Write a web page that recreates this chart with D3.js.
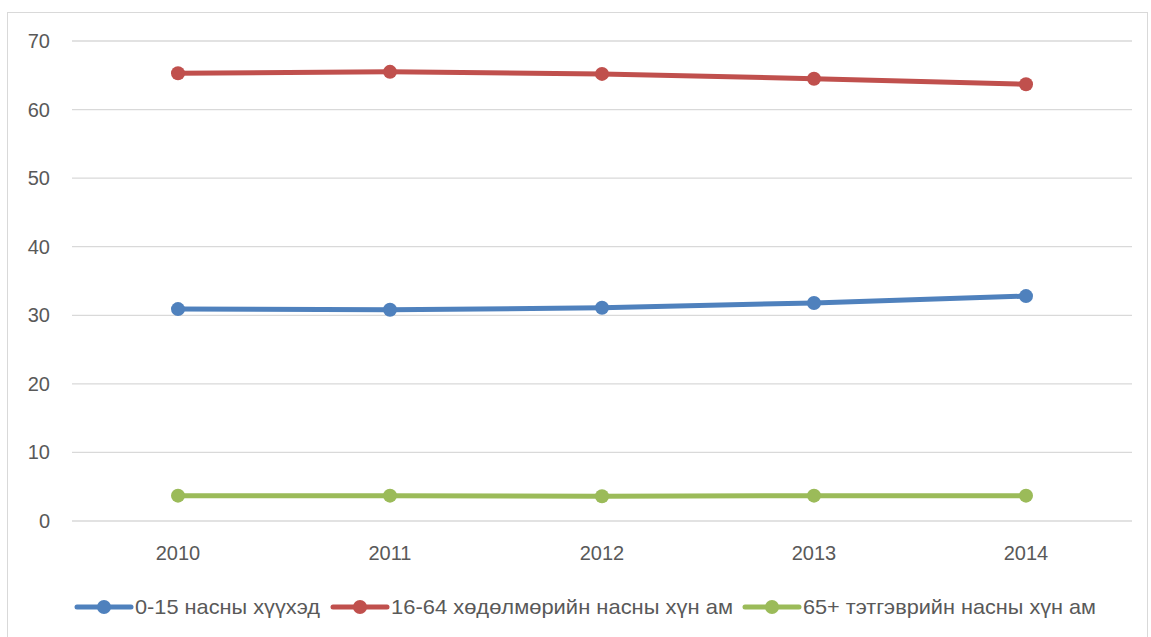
<!DOCTYPE html>
<html>
<head>
<meta charset="utf-8">
<script src="https://cdn.jsdelivr.net/npm/d3@7"></script>
<style>
  body { margin: 0; background: #fff; }
  svg text { font-family: 'Liberation Sans', 'DejaVu Sans', sans-serif; fill: #595959; }
</style>
</head>
<body>
<svg id="chart" width="1151" height="637"></svg>
<script>
const years = ['2010', '2011', '2012', '2013', '2014'];
const children = [30.9, 30.8, 31.1, 31.8, 32.8];
const working = [65.3, 65.5, 65.2, 64.5, 63.7];
const elderly = [3.7, 3.7, 3.6, 3.7, 3.7];
const yTicks = [0, 10, 20, 30, 40, 50, 60, 70];

const seriesNames = ['0-15 насны хүүхэд', '16-64 хөдөлмөрийн насны хүн ам', '65+ тэтгэврийн насны хүн ам'];
const seriesColors = ['#4f81bd', '#c0504d', '#9bbb59'];
const seriesValues = [children, working, elderly];

const svg = d3.select('#chart');

// outer chart border
svg.append('rect')
  .attr('x', 7.5).attr('y', 12.5)
  .attr('width', 1140).attr('height', 630)
  .attr('fill', 'none')
  .attr('stroke', '#d9d9d9');

const margin = {top: 41, left: 72, right: 1132, bottom: 521};

const x = d3.scaleBand()
  .domain(years)
  .range([margin.left, margin.right]);

const y = d3.scaleLinear()
  .domain([0, 70])
  .range([margin.bottom, margin.top]);

// gridlines
svg.append('g')
  .selectAll('line')
  .data(yTicks)
  .enter()
  .append('line')
    .attr('x1', margin.left).attr('x2', margin.right)
    .attr('y1', d => y(d)).attr('y2', d => y(d))
    .attr('stroke', '#d9d9d9')
    .attr('stroke-width', 1.3);

// y labels
svg.append('g')
  .selectAll('text')
  .data(yTicks)
  .enter()
  .append('text')
    .attr('x', 50)
    .attr('y', d => y(d))
    .attr('dy', '0.35em')
    .attr('text-anchor', 'end')
    .style('font-size', '20px')
    .text(d => d);

// x labels
svg.append('g')
  .selectAll('text')
  .data(years)
  .enter()
  .append('text')
    .attr('x', d => x(d) + x.bandwidth() / 2)
    .attr('y', 560)
    .attr('text-anchor', 'middle')
    .style('font-size', '20px')
    .text(d => d);

const line = d3.line()
  .x((d, i) => x(years[i]) + x.bandwidth() / 2)
  .y(d => y(d));

seriesValues.forEach((vals, s) => {
  const g = svg.append('g');
  g.append('path')
    .datum(vals)
    .attr('d', line)
    .attr('fill', 'none')
    .attr('stroke', seriesColors[s])
    .attr('stroke-width', 5)
    .attr('stroke-linejoin', 'round');
  g.selectAll('circle')
    .data(vals)
    .enter()
    .append('circle')
      .attr('cx', (d, i) => x(years[i]) + x.bandwidth() / 2)
      .attr('cy', d => y(d))
      .attr('r', 7)
      .attr('fill', seriesColors[s]);
});

// legend (Calibri-like widths approximated with textLength)
const legendX = [77, 333, 745];
const legendTextW = [185, 342, 293];
const legend = svg.append('g');
seriesNames.forEach((name, s) => {
  const lg = legend.append('g').attr('transform', `translate(${legendX[s]}, 607)`);
  lg.append('line')
    .attr('x1', 0).attr('x2', 54)
    .attr('stroke', seriesColors[s])
    .attr('stroke-width', 5)
    .attr('stroke-linecap', 'round');
  lg.append('circle')
    .attr('cx', 27).attr('r', 7)
    .attr('fill', seriesColors[s]);
  lg.append('text')
    .attr('x', 58)
    .attr('dy', '0.35em')
    .attr('textLength', legendTextW[s])
    .attr('lengthAdjust', 'spacingAndGlyphs')
    .style('font-size', '21px')
    .text(name);
});
</script>
</body>
</html>
